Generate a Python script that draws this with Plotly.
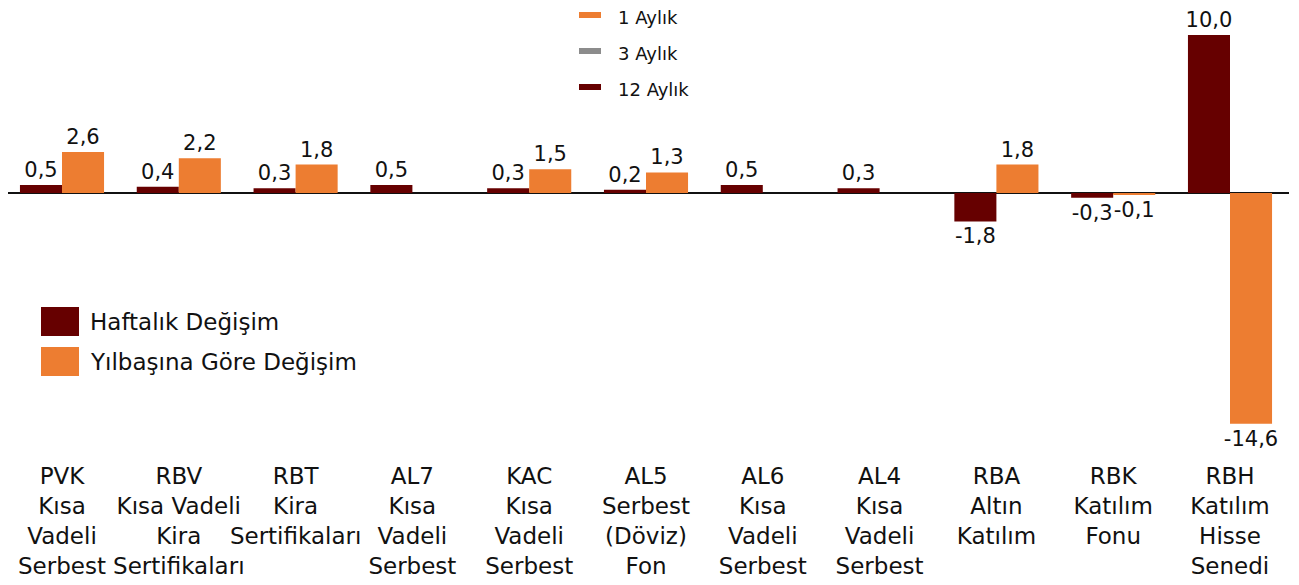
import plotly.graph_objects as go

# ---------------- data ----------------
fund_codes = ["PVK", "RBV", "RBT", "AL7", "KAC", "AL5", "AL6", "AL4", "RBA", "RBK", "RBH"]
tick_labels = [
    "PVK<br>Kısa<br>Vadeli<br>Serbest",
    "RBV<br>Kısa Vadeli<br>Kira<br>Sertifikaları",
    "RBT<br>Kira<br>Sertifikaları",
    "AL7<br>Kısa<br>Vadeli<br>Serbest",
    "KAC<br>Kısa<br>Vadeli<br>Serbest",
    "AL5<br>Serbest<br>(Döviz)<br>Fon",
    "AL6<br>Kısa<br>Vadeli<br>Serbest",
    "AL4<br>Kısa<br>Vadeli<br>Serbest",
    "RBA<br>Altın<br>Katılım",
    "RBK<br>Katılım<br>Fonu",
    "RBH<br>Katılım<br>Hisse<br>Senedi",
]
haftalik = [0.5, 0.4, 0.3, 0.5, 0.3, 0.2, 0.5, 0.3, -1.8, -0.3, 10.0]
yilbasi = [2.6, 2.2, 1.8, None, 1.5, 1.3, None, None, 1.8, -0.1, -14.6]

bar_series_names = ["Haftalık Değişim", "Yılbaşına Göre Değişim"]
bar_colors = ["#660000", "#ED7D31"]

line_legend_names = ["1 Aylık", "3 Aylık", "12 Aylık"]
line_legend_colors = ["#ED7D31", "#8C8C8C", "#660000"]

# ---------------- layout geometry ----------------
OFF = 8                      # page body margin
W, H = 1299 - OFF, 585 - OFF
ML, MR, MT, MB = 0, 10, 22, 125
PW, PH = W - ML - MR, H - MT - MB
FONT = "DejaVu Sans"
CAT_STEP = 116.8             # px per category
FIRST_CENTER = 62 - OFF      # px of first category centre in figure coords
x_lo = -(FIRST_CENTER - ML) / CAT_STEP
x_hi = x_lo + PW / CAT_STEP
ZERO = 193 - OFF
UNIT = 15.8
y_hi = (ZERO - MT) / UNIT
y_lo = -(H - MB - ZERO) / UNIT


def px_x(x):
    return (x - OFF - ML) / PW


def px_y(y):
    return (H - MB - (y - OFF)) / PH


def fmt(v):
    return "" if v is None else f"{v:.1f}".replace(".", ",")


fig = go.Figure()
for name, vals, col in zip(bar_series_names, [haftalik, yilbasi], bar_colors):
    fig.add_trace(go.Bar(
        x=fund_codes, y=vals, name=name, marker_color=col,
        marker_line_width=0,
        text=[fmt(v) for v in vals], textposition="outside",
        textfont=dict(family=FONT, size=21, color="#111111"),
        constraintext="none", cliponaxis=False, showlegend=False,
    ))

shapes = []
annotations = []
# top line legend
ys_line = [15, 51, 87]
for name, col, yy in zip(line_legend_names, line_legend_colors, ys_line):
    shapes.append(dict(type="line", xref="paper", yref="paper",
                       x0=px_x(579), x1=px_x(601), y0=px_y(yy), y1=px_y(yy),
                       line=dict(color=col, width=6)))
    annotations.append(dict(text=name, xref="paper", yref="paper",
                            x=px_x(616), y=px_y(yy + 2), xanchor="left", yanchor="middle",
                            showarrow=False, font=dict(family=FONT, size=18, color="#111111")))
# bar series legend
ys_box = [307, 347]
for name, col, yy in zip(bar_series_names, bar_colors, ys_box):
    shapes.append(dict(type="rect", xref="paper", yref="paper",
                       x0=px_x(41), x1=px_x(79), y0=px_y(yy), y1=px_y(yy + 29),
                       fillcolor=col, line=dict(width=0)))
    annotations.append(dict(text=name, xref="paper", yref="paper",
                            x=px_x(88), y=px_y(yy + 15), xanchor="left", yanchor="middle",
                            showarrow=False, font=dict(family=FONT, size=23, color="#111111")))

fig.update_layout(
    width=W, height=H,
    margin=dict(l=ML, r=MR, t=MT, b=MB, pad=0, autoexpand=False),
    paper_bgcolor="white", plot_bgcolor="white",
    barmode="group", bargap=0.28, bargroupgap=0,
    showlegend=False,
    font=dict(family=FONT, size=22, color="#111111"),
    shapes=shapes, annotations=annotations,
    xaxis=dict(tickmode="array", tickvals=fund_codes, ticktext=tick_labels,
               range=[x_lo, x_hi], tickangle=0, automargin=False,
               showgrid=False, showline=False, ticks="", zeroline=False,
               tickfont=dict(family=FONT, size=23, color="#111111")),
    yaxis=dict(range=[y_lo, y_hi], showgrid=False, showticklabels=False,
               automargin=False,
               ticks="", showline=False, zeroline=True, zerolinecolor="#111111",
               zerolinewidth=1.5),
)

fig.write_html("out.html")
